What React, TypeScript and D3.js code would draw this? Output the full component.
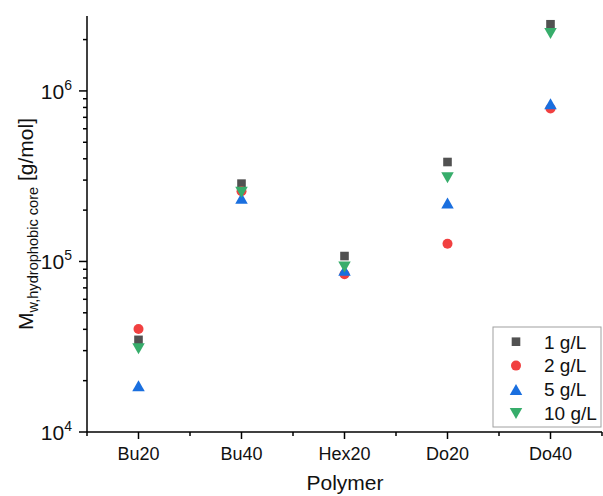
import React from "react";
import * as d3 from "d3";

const categories = ["Bu20", "Bu40", "Hex20", "Do20", "Do40"];
const seriesNames = ["1 g/L", "2 g/L", "5 g/L", "10 g/L"];
const s1 = [3.47e4, 2.86e5, 1.076e5, 3.83e5, 2.46e6];
const s2 = [4.02e4, 2.58e5, 8.41e4, 1.27e5, 7.9e5];
const s5 = [1.87e4, 2.35e5, 8.88e4, 2.2e5, 8.4e5];
const s10 = [3.08e4, 2.55e5, 9.28e4, 3.1e5, 2.17e6];
const majorTicks = [1e4, 1e5, 1e6];
const majorExps = ["4", "5", "6"];

const W = 603;
const H = 496;
const FONT = "Arial, 'Liberation Sans', sans-serif";
const colors = ["#515151", "#F14040", "#1A6FDF", "#37AD6B"];
const shapes = ["square", "circle", "up", "down"];

function marker(shape: string, cx: number, cy: number, color: string, key: string) {
  if (shape === "square") {
    const s = 8.6;
    return <rect key={key} x={cx - s / 2} y={cy - s / 2} width={s} height={s} fill={color} />;
  }
  if (shape === "circle") {
    return <circle key={key} cx={cx} cy={cy} r={5} fill={color} />;
  }
  const w = 12.5;
  const h = 11;
  if (shape === "up") {
    const p = d3.path();
    p.moveTo(cx, cy - h / 2);
    p.lineTo(cx + w / 2, cy + h / 2);
    p.lineTo(cx - w / 2, cy + h / 2);
    p.closePath();
    return <path key={key} d={p.toString()} fill={color} />;
  }
  const p = d3.path();
  p.moveTo(cx - w / 2, cy - h / 2);
  p.lineTo(cx + w / 2, cy - h / 2);
  p.lineTo(cx, cy + h / 2);
  p.closePath();
  return <path key={key} d={p.toString()} fill={color} />;
}

export default function App() {
  const left = 87;
  const right = 602;
  const top = 16;
  const bottom = 432;
  const x = d3.scaleLinear().domain([0.5, categories.length + 0.5]).range([left, right]);
  const y = d3.scaleLog().domain([1e4, 2.75e6]).range([bottom, top]);

  const minor: number[] = [];
  for (let e = 4; e <= 6; e++) {
    for (let m = 2; m <= 9; m++) {
      const v = m * Math.pow(10, e);
      if (v <= y.domain()[1]) minor.push(v);
    }
  }
  const xMinor = d3.range(0.5, categories.length + 0.51, 1);
  const series = [s1, s2, s5, s10];

  return (
    <svg width={W} height={H} style={{ position: "absolute", left: 0, top: 0, background: "#fff" }} fontFamily={FONT}>
      {/* y axis */}
      <line x1={left} x2={left} y1={top} y2={bottom} stroke="#000" strokeWidth={1.5} />
      {majorTicks.map((v, i) => (
        <g key={"ym" + i}>
          <line x1={left - 8} x2={left} y1={y(v)} y2={y(v)} stroke="#000" strokeWidth={1.5} />
          <text x={left - 15} y={y(v) + 7.6} textAnchor="end" fontSize={21} fill="#111">
            10<tspan fontSize={14} dy={-9}>{majorExps[i]}</tspan>
          </text>
        </g>
      ))}
      {minor.map((v, i) => (
        <line key={"yn" + i} x1={left - 4} x2={left} y1={y(v)} y2={y(v)} stroke="#000" strokeWidth={1.5} />
      ))}
      {/* x axis */}
      <line x1={left} x2={right} y1={bottom} y2={bottom} stroke="#000" strokeWidth={1.5} />
      {categories.map((c, i) => (
        <g key={"xm" + i}>
          <line x1={x(i + 1)} x2={x(i + 1)} y1={bottom} y2={bottom + 7} stroke="#000" strokeWidth={1.5} />
          <text x={x(i + 1)} y={460} textAnchor="middle" fontSize={18} fill="#111">{c}</text>
        </g>
      ))}
      {xMinor.map((v, i) => (
        <line key={"xn" + i} x1={x(v)} x2={x(v)} y1={bottom} y2={bottom + 4} stroke="#000" strokeWidth={1.5} />
      ))}
      {/* axis titles */}
      <text x={345} y={490} textAnchor="middle" fontSize={21} fill="#111">Polymer</text>
      <text transform={`translate(33,224) rotate(-90)`} textAnchor="middle" fontSize={21} fill="#111">
        M<tspan fontSize={14.6} dy={5}>w,hydrophobic core</tspan><tspan dy={-5}> [g/mol]</tspan>
      </text>
      {/* data */}
      {series.map((s, si) =>
        s.map((v, i) => marker(shapes[si], x(i + 1), y(v), colors[si], `p${si}-${i}`))
      )}
      {/* legend */}
      <rect x={493} y={327} width={108} height={100} fill="#fff" stroke="#a0a0a0" strokeWidth={1} />
      {seriesNames.map((n, i) => (
        <g key={"lg" + i}>
          {marker(shapes[i], 516, 341.7 + i * 23.9, colors[i], "lm" + i)}
          <text x={544} y={341.7 + i * 23.9 + 6.8} fontSize={19} fill="#111">{n}</text>
        </g>
      ))}
    </svg>
  );
}
